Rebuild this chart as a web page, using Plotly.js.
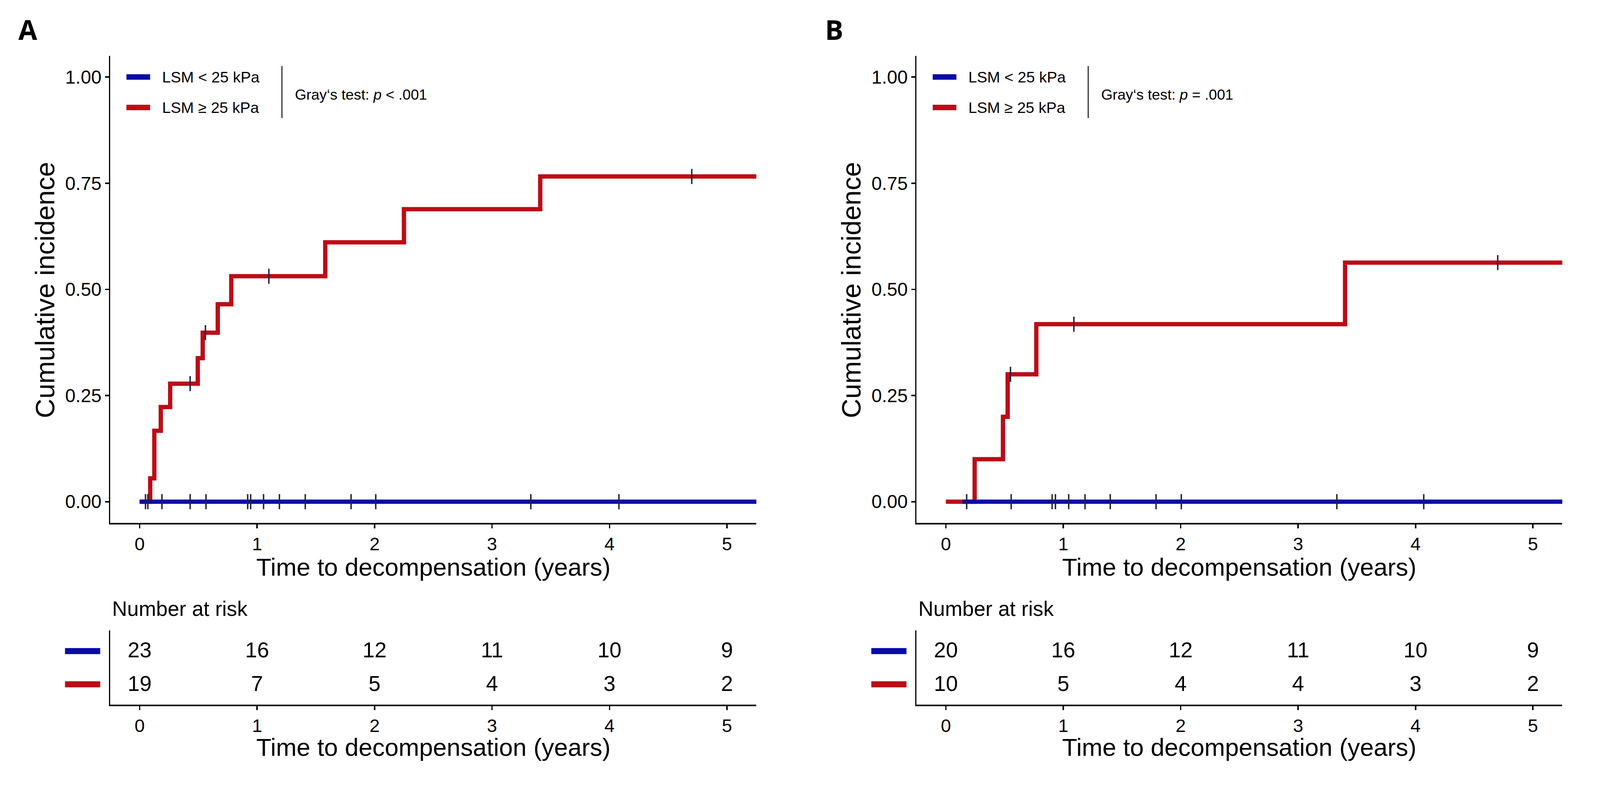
<!DOCTYPE html>
<html>
<head>
<meta charset="utf-8">
<script src="https://cdn.plot.ly/plotly-3.0.1.min.js"></script>
<style>html,body{margin:0;padding:0;background:#fff;overflow:hidden;}#chart{width:100vw;height:100vh;}</style>
</head>
<body>
<div id="chart"></div>
<script>
// ---------------- data ----------------
const timeTicks = [0, 1, 2, 3, 4, 5];
const ciTicks = [0, 0.25, 0.5, 0.75, 1];
const groups = ['LSM &lt; 25 kPa', 'LSM ≥ 25 kPa'];
const panelLabels = ['A', 'B'];
const tests = ['Gray‘s test: <i>p</i> &lt; .001', 'Gray‘s test: <i>p</i> = .001'];
const xTitle = 'Time to decompensation (years)';
const yTitle = 'Cumulative incidence';
const riskTitle = 'Number at risk';

// Panel A
const A_red_t  = [0, 0.09, 0.125, 0.18, 0.26, 0.495, 0.537, 0.665, 0.78, 1.58, 2.25, 3.41, 5.3];
const A_red_ci = [0, 0.055, 0.167, 0.223, 0.278, 0.338, 0.398, 0.465, 0.531, 0.611, 0.689, 0.766, 0.766];
const A_blue_t  = [0, 5.3];
const A_blue_ci = [0, 0];
const A_red_cens_t  = [0.43, 0.56, 1.10, 4.70];
const A_red_cens_ci = [0.278, 0.398, 0.531, 0.766];
const A_blue_cens_t  = [0.05, 0.07, 0.19, 0.43, 0.565, 0.92, 0.945, 1.055, 1.19, 1.41, 1.80, 2.01, 3.33, 4.08];
const A_blue_cens_ci = [0, 0, 0, 0, 0, 0, 0, 0, 0, 0, 0, 0, 0, 0];
const A_risk_blue = [23, 16, 12, 11, 10, 9];
const A_risk_red  = [19, 7, 5, 4, 3, 2];

// Panel B
const B_red_t  = [0, 0.245, 0.486, 0.526, 0.77, 3.40, 5.3];
const B_red_ci = [0, 0.10, 0.20, 0.30, 0.418, 0.563, 0.563];
const B_blue_t  = [0.14, 5.3];
const B_blue_ci = [0, 0];
const B_red_cens_t  = [0.55, 1.09, 4.70];
const B_red_cens_ci = [0.30, 0.418, 0.563];
const B_blue_cens_t  = [0.177, 0.556, 0.905, 0.933, 1.046, 1.185, 1.40, 1.79, 2.005, 3.33, 4.07];
const B_blue_cens_ci = [0, 0, 0, 0, 0, 0, 0, 0, 0, 0, 0];
const B_risk_blue = [20, 16, 12, 11, 10, 9];
const B_risk_red  = [10, 5, 4, 4, 3, 2];

const riskRows = [2, 1]; // strata rows: blue on top, red below

// ---------------- styling ----------------
const W = 4455, H = 2024; // reference frame
const VW = window.innerWidth || W, VH = window.innerHeight || H;
const sx = VW / W, sy = VH / H;
const s = Math.min(sx, sy);
const f = v => v * s;      // line widths, marker sizes
const fx = v => v * sx;    // horizontal text sizes
const fy = v => v * sy;    // rotated text sizes
const BLUE = '#0A0AA8', RED = '#BC0C16', CENS = '#22223a';
const FONT = 'Liberation Sans, Arial, Helvetica, sans-serif';
const px = x => x / W;
const py = y => 1 - y / H;

const panels = [
  {red_t: A_red_t, red_ci: A_red_ci, blue_t: A_blue_t, blue_ci: A_blue_ci,
   rc_t: A_red_cens_t, rc_ci: A_red_cens_ci, bc_t: A_blue_cens_t, bc_ci: A_blue_cens_ci,
   rb: A_risk_blue, rr: A_risk_red, left: 307, right: 2106, off: 0},
  {red_t: B_red_t, red_ci: B_red_ci, blue_t: B_blue_t, blue_ci: B_blue_ci,
   rc_t: B_red_cens_t, rc_ci: B_red_cens_ci, bc_t: B_blue_cens_t, bc_ci: B_blue_cens_ci,
   rb: B_risk_blue, rr: B_risk_red, left: 2552, right: 4350, off: 2245}
];

const traces = [];
const layout = {
  width: VW, height: VH, margin: {l: 0, r: 0, t: 0, b: 0},
  paper_bgcolor: '#fff', plot_bgcolor: '#fff', showlegend: false,
  font: {family: FONT, color: '#000'},
  annotations: [], shapes: []
};

panels.forEach((p, i) => {
  const n = i === 0 ? '' : String(i + 1);
  const nr = String(i + 3);
  const xa = 'x' + n, ya = 'y' + n, xr = 'x' + nr, yr = 'y' + nr;
  // curves
  traces.push({x: p.red_t, y: p.red_ci, xaxis: xa, yaxis: ya, mode: 'lines', name: groups[1],
    line: {color: RED, width: f(12), shape: 'hv'}, hoverinfo: 'skip'});
  traces.push({x: p.blue_t, y: p.blue_ci, xaxis: xa, yaxis: ya, mode: 'lines', name: groups[0],
    line: {color: BLUE, width: f(12), shape: 'hv'}, hoverinfo: 'skip'});
  // censor marks
  traces.push({x: p.rc_t, y: p.rc_ci, xaxis: xa, yaxis: ya, mode: 'markers',
    marker: {symbol: 'line-ns', size: f(30), line: {color: CENS, width: f(4)}}, hoverinfo: 'skip'});
  traces.push({x: p.bc_t, y: p.bc_ci, xaxis: xa, yaxis: ya, mode: 'markers',
    marker: {symbol: 'line-ns', size: f(30), line: {color: CENS, width: f(4)}}, hoverinfo: 'skip'});
  // risk table
  traces.push({x: timeTicks, y: timeTicks.map(() => riskRows[0]), text: p.rb.map(String), xaxis: xr, yaxis: yr,
    mode: 'text', textposition: 'middle center', textfont: {size: fx(60), color: '#000', family: FONT}, cliponaxis: false, hoverinfo: 'skip'});
  traces.push({x: timeTicks, y: timeTicks.map(() => riskRows[1]), text: p.rr.map(String), xaxis: xr, yaxis: yr,
    mode: 'text', textposition: 'middle center', textfont: {size: fx(60), color: '#000', family: FONT}, cliponaxis: false, hoverinfo: 'skip'});

  const xdom = [px(p.left), px(p.right)];
  const xbase = {domain: xdom, range: [-0.25, 5.25], tickvals: timeTicks, ticktext: timeTicks.map(String),
    ticks: 'outside', ticklen: fy(10), tickwidth: f(4), tickcolor: '#000', showline: true, linewidth: f(4), linecolor: '#000',
    showgrid: false, zeroline: false, tickfont: {size: fx(51), family: FONT, color: '#000'}, fixedrange: true};
  layout['xaxis' + n] = Object.assign({}, xbase, {anchor: ya});
  layout['yaxis' + n] = {domain: [py(1338), py(143)], anchor: xa, range: [-0.05, 1.05], tickvals: ciTicks,
    ticktext: ciTicks.map(v => v.toFixed(2)), ticks: 'outside', ticklen: fx(10), tickwidth: f(4), tickcolor: '#000',
    showline: true, linewidth: f(4), linecolor: '#000', showgrid: false, zeroline: false,
    tickfont: {size: fx(52), family: FONT, color: '#000'}, ticklabelstandoff: fx(4), fixedrange: true};
  layout['xaxis' + nr] = Object.assign({}, xbase, {anchor: yr});
  layout['yaxis' + nr] = {domain: [py(1803), py(1613)], anchor: xr, range: [0.43, 2.64], showline: true,
    linewidth: f(4), linecolor: '#000', ticks: '', showticklabels: false, showgrid: false, zeroline: false, fixedrange: true};

  const cx = (p.left + p.right) / 2;
  const ann = layout.annotations;
  ann.push({text: '<b>' + panelLabels[i] + '</b>', x: px(78 + p.off), y: py(75), xref: 'paper', yref: 'paper',
    showarrow: false, xanchor: 'center', yanchor: 'middle', font: {size: fx(76), family: 'Open Sans, ' + FONT, color: '#000'}});
  ann.push({text: yTitle, textangle: -90, x: px(p.left - 182), y: py(742), xref: 'paper', yref: 'paper',
    showarrow: false, xanchor: 'center', yanchor: 'middle', font: {size: fy(69), family: FONT}});
  ann.push({text: xTitle, x: px(cx), y: py(1451), xref: 'paper', yref: 'paper',
    showarrow: false, xanchor: 'center', yanchor: 'middle', font: {size: fx(69), family: FONT}});
  ann.push({text: xTitle, x: px(cx), y: py(1912), xref: 'paper', yref: 'paper',
    showarrow: false, xanchor: 'center', yanchor: 'middle', font: {size: fx(69), family: FONT}});
  ann.push({text: riskTitle, x: px(p.left + 3), y: py(1557), xref: 'paper', yref: 'paper',
    showarrow: false, xanchor: 'left', yanchor: 'middle', font: {size: fx(58), family: FONT}});
  // legend
  const lx0 = p.left + 45, lx1 = p.left + 111;
  [[197, BLUE, groups[0]], [275, RED, groups[1]]].forEach(([yy, col, txt]) => {
    layout.shapes.push({type: 'line', xref: 'paper', yref: 'paper', x0: px(lx0), x1: px(lx1), y0: py(yy), y1: py(yy),
      line: {color: col, width: f(15)}});
    ann.push({text: txt, x: px(p.left + 142), y: py(yy), xref: 'paper', yref: 'paper', showarrow: false,
      xanchor: 'left', yanchor: 'middle', font: {size: fx(43), family: FONT}});
  });
  layout.shapes.push({type: 'line', xref: 'paper', yref: 'paper', x0: px(p.left + 478), x1: px(p.left + 478),
    y0: py(169), y1: py(302), line: {color: '#222', width: f(3)}});
  ann.push({text: tests[i], x: px(p.left + 512), y: py(242), xref: 'paper', yref: 'paper', showarrow: false,
    xanchor: 'left', yanchor: 'middle', font: {size: fx(41), family: FONT}});
  // risk table colour keys
  [[1666, BLUE], [1751, RED]].forEach(([yy, col]) => {
    layout.shapes.push({type: 'line', xref: 'paper', yref: 'paper', x0: px(p.left - 126), x1: px(p.left - 28),
      y0: py(yy), y1: py(yy), line: {color: col, width: f(17)}});
  });
});

Plotly.newPlot('chart', traces, layout, {staticPlot: true, displayModeBar: false});
</script>
</body>
</html>
